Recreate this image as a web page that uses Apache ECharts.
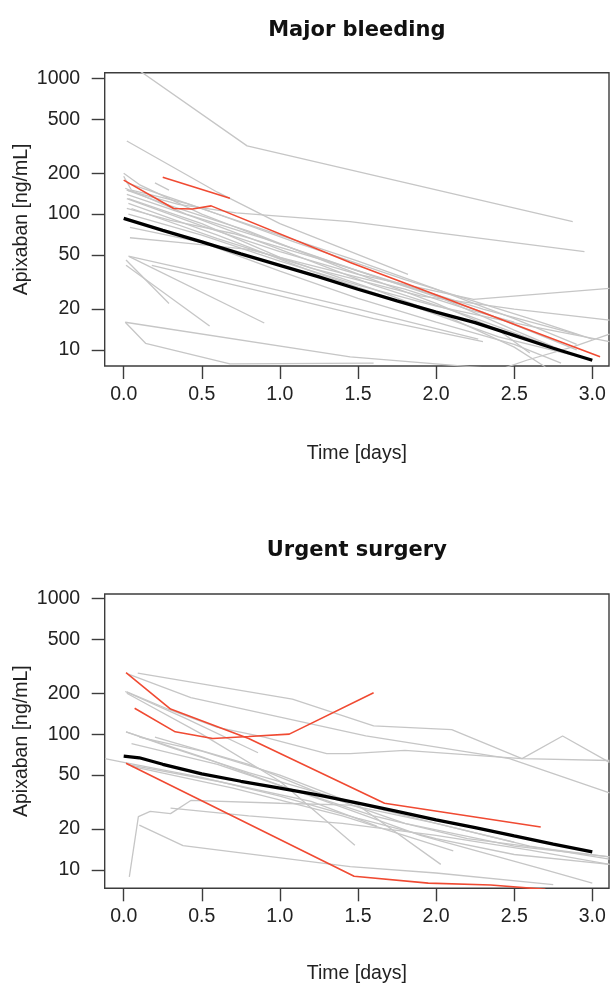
<!DOCTYPE html>
<html><head><meta charset="utf-8">
<script src="https://cdn.jsdelivr.net/npm/echarts@6/dist/echarts.min.js"></script>
<style>html,body{margin:0;padding:0;background:#fff}#c{width:610px;height:986px}</style>
</head><body><div id="c"></div>
<script>
// ---- tick labels ----
const xTicks = [0, 0.5, 1, 1.5, 2, 2.5, 3];
const yTicks = [10, 20, 50, 100, 200, 500, 1000];
const panelTitles = ['Major bleeding', 'Urgent surgery'];
const xName = 'Time [days]';
const yName = 'Apixaban [ng/mL]';

// ---- Major bleeding: individual patients (gray), selected (red), population curve (black) ----
const majorGray = [
  [[0.05,1250],[0.79,318],[2.875,88]],
  [[0.02,345],[0.6,145],[1.0,85],[1.82,36]],
  [[0.2,170],[0.29,150]],
  [[0.02,150],[0.35,118],[0.72,102],[1.45,88],[2.95,53]],
  [[0.02,130],[0.5,82],[1.0,53],[1.5,36],[2.24,23.6],[3.11,28.4]],
  [[0.05,110],[0.6,66],[1.2,40],[1.9,25],[2.5,20],[3.11,16.6]],
  [[2.3,6.5],[2.58,8.4],[2.88,10.6],[3.11,13.1]],
  [[0,200],[0.1,165],[0.5,100],[1.0,60],[1.5,38],[2.0,25],[2.5,14],[2.8,10]],
  [[0,190],[0.05,150],[0.4,120],[1.0,70],[1.5,45],[2.0,28],[2.5,17],[2.9,11]],
  [[0.02,150],[0.3,115],[0.8,75],[1.4,40],[2.0,22],[2.4,14],[2.6,9.5]],
  [[0.02,140],[0.45,95],[1.0,55],[1.6,30],[2.2,18],[2.7,11]],
  [[0.03,130],[0.5,85],[1.0,48],[1.6,28],[2.1,17],[2.5,10.5],[2.7,7.5]],
  [[0.03,120],[0.6,70],[1.2,38],[1.8,22],[2.4,12.5],[2.9,9]],
  [[0.02,110],[0.3,90],[0.7,72],[1.3,45],[1.8,30],[2.3,20],[2.9,13]],
  [[0.03,100],[0.5,70],[1.0,45],[1.5,30],[2.0,21],[2.6,15],[3.11,11.5]],
  [[0.04,80],[0.5,62],[1.0,38],[1.5,24],[2.0,16],[2.5,11],[2.8,8]],
  [[0.04,67],[0.35,62],[0.8,55],[1.2,42],[1.8,28],[2.2,20],[2.5,16]],
  [[0.02,170],[0.55,105],[1.1,62],[1.8,33],[2.6,17],[3.0,12]],
  [[0.01,155],[0.4,100],[0.9,66],[1.6,35],[2.3,19],[2.9,10]],
  [[0.015,46],[0.29,22]],
  [[0.015,42],[0.55,15]],
  [[0.036,48.6],[0.9,15.8]],
  [[0.18,42],[1.0,25],[1.6,17],[2.3,11.5]],
  [[0.03,49],[0.7,33],[1.5,20],[2.27,12]],
  [[0.01,16],[0.14,11.2],[0.68,7.9],[1.6,8.0]],
  [[0.01,16],[1.45,8.9],[2.3,7.4]]
];
const majorRed = [
  [[0,178],[0.32,110],[0.44,109],[0.56,115],[1.45,44],[2.24,20],[3.05,8.9]],
  [[0.25,187],[0.68,131]]
];
const majorMedian = [[0,93],[0.25,76],[0.5,62.5],[0.75,51],[1.0,42],[1.25,34.5],[1.5,28],[1.75,23],[2.0,19],[2.25,15.9],[2.5,12.8],[2.75,10.3],[3.0,8.4]];

// ---- Urgent surgery ----
const urgentGray = [
  [[0.09,281],[1.08,181],[1.6,115],[2.1,108],[2.55,66],[2.81,97],[3.11,62]],
  [[0.03,277],[0.43,186],[1.55,97],[2.47,66],[3.11,37]],
  [[0.02,205],[0.3,150],[0.6,112],[0.9,95],[1.3,72],[1.45,72],[1.8,76],[2.55,66],[3.11,64]],
  [[0.01,206],[0.4,130],[0.86,73]],
  [[0.02,200],[0.5,100],[1.0,45],[1.48,15.2]],
  [[0.015,104],[0.3,80],[0.8,52],[1.4,33],[2.0,22],[2.6,15],[3.11,12]],
  [[0.015,104],[0.5,68],[1.0,42],[1.6,25],[2.2,17],[3.11,12.5]],
  [[0.1,95],[0.5,75],[1.0,50],[1.5,30],[2.03,11]],
  [[0.05,85],[0.6,60],[1.2,35],[1.9,18],[2.7,10],[3.0,8]],
  [[-0.12,66],[0.0,62],[0.5,48],[1.0,35],[1.5,24],[2.0,17],[2.5,13],[3.11,11]],
  [[0.036,8.9],[0.094,24.7],[0.17,27],[0.3,26],[0.43,32.5],[1.0,31],[1.45,30],[2.0,22],[2.5,16]],
  [[0.3,28.5],[0.8,25],[1.4,22],[2.0,18],[2.6,14],[3.11,11]],
  [[0.1,21.4],[0.38,15.1],[1.45,10.6],[2.0,9.5],[2.75,7.8]],
  [[0.02,60],[0.6,45],[1.2,32],[1.62,21]],
  [[0.05,58],[0.7,40],[1.4,25],[2.11,13.8]],
  [[0.2,95],[0.8,60],[1.3,35],[1.8,22],[2.5,15],[3.11,12.5]]
];
const urgentRed = [
  [[0.015,284],[0.3,153],[0.8,93],[1.67,31],[2.67,20.7]],
  [[0.07,155],[0.33,104],[0.57,93],[0.8,96],[1.06,100],[1.6,202]],
  [[0.015,61],[1.475,9.0],[1.95,8.0],[2.35,7.75],[2.7,7.2]]
];
const urgentMedian = [[0,69],[0.1,67],[0.25,60],[0.5,51],[0.75,45],[1.0,40],[1.25,35.5],[1.5,31],[1.75,27],[2.0,23.4],[2.25,20.5],[2.5,17.8],[2.75,15.5],[3.0,13.6]];

// ---- layout ----
const FONT = 'Liberation Sans, Arial, sans-serif';
const panels = [
  {top: 72.7, height: 293.3, ymin: 7.62, ymax: 1099, gray: majorGray, red: majorRed, median: majorMedian, titleY: 31},
  {top: 594, height: 294.3, ymin: 7.33, ymax: 1076, gray: urgentGray, red: urgentRed, median: urgentMedian, titleY: 551}
];
const GRID_LEFT = 104.7, GRID_W = 504.3;
const XMIN = -0.1216, XMAX = 3.107;

const grid = [], xAxis = [], yAxis = [], series = [], graphic = [];
panels.forEach((p, i) => {
  grid.push({left: GRID_LEFT, top: p.top, width: GRID_W, height: p.height, show: true,
    borderColor: '#3c3c3c', borderWidth: 1.4, backgroundColor: 'transparent',
    containLabel: false, outerBoundsMode: 'none'});
  xAxis.push({type: 'value', gridIndex: i, min: XMIN, max: XMAX,
    axisLine: {show: false, onZero: false}, splitLine: {show: false},
    axisTick: {show: true, inside: false, length: 13, lineStyle: {color: '#3c3c3c', width: 1.4}, customValues: xTicks},
    axisLabel: {customValues: xTicks, margin: 18.5, color: '#222', fontFamily: FONT, fontSize: 19.5,
      formatter: v => v.toFixed(1)},
    name: xName, nameLocation: 'middle', nameGap: i === 0 ? 77.5 : 75, nameMoveOverlap: false,
    nameTextStyle: {color: '#222', fontFamily: FONT, fontSize: 19.5}});
  yAxis.push({type: 'log', logBase: 10, gridIndex: i, min: p.ymin, max: p.ymax,
    axisLine: {show: false, onZero: false}, splitLine: {show: false}, minorTick: {show: false},
    axisTick: {show: true, inside: false, length: 13, lineStyle: {color: '#3c3c3c', width: 1.4}, customValues: yTicks},
    axisLabel: {customValues: yTicks, margin: 24.5, color: '#222', fontFamily: FONT, fontSize: 19.5,
      formatter: v => String(Math.round(v))},
    name: yName, nameLocation: 'middle', nameGap: 73, nameRotate: 90, nameMoveOverlap: false,
    nameTextStyle: {color: '#222', fontFamily: FONT, fontSize: 19.5}});
  const mk = (data, color, width, z) => ({type: 'line', xAxisIndex: i, yAxisIndex: i, data: data,
    showSymbol: false, symbol: 'none', silent: true, clip: true, z: z,
    lineStyle: {color: color, width: width}, emphasis: {disabled: true}});
  p.gray.forEach(d => series.push(mk(d, '#c6c6c6', 1.3, 2)));
  p.red.forEach(d => series.push(mk(d, '#f04a32', 1.6, 3)));
  series.push(mk(p.median, '#000000', 3.3, 4));
  graphic.push({type: 'text', x: GRID_LEFT + GRID_W / 2, y: p.titleY, z: 10,
    style: {text: panelTitles[i], fill: '#111', font: 'bold 21px "DejaVu Sans", sans-serif',
      textAlign: 'center', textVerticalAlign: 'middle'}});
});

const chart = echarts.init(document.getElementById('c'), null, {renderer: 'canvas'});
chart.setOption({animation: false, backgroundColor: '#fff', grid, xAxis, yAxis, series, graphic});
</script></body></html>
